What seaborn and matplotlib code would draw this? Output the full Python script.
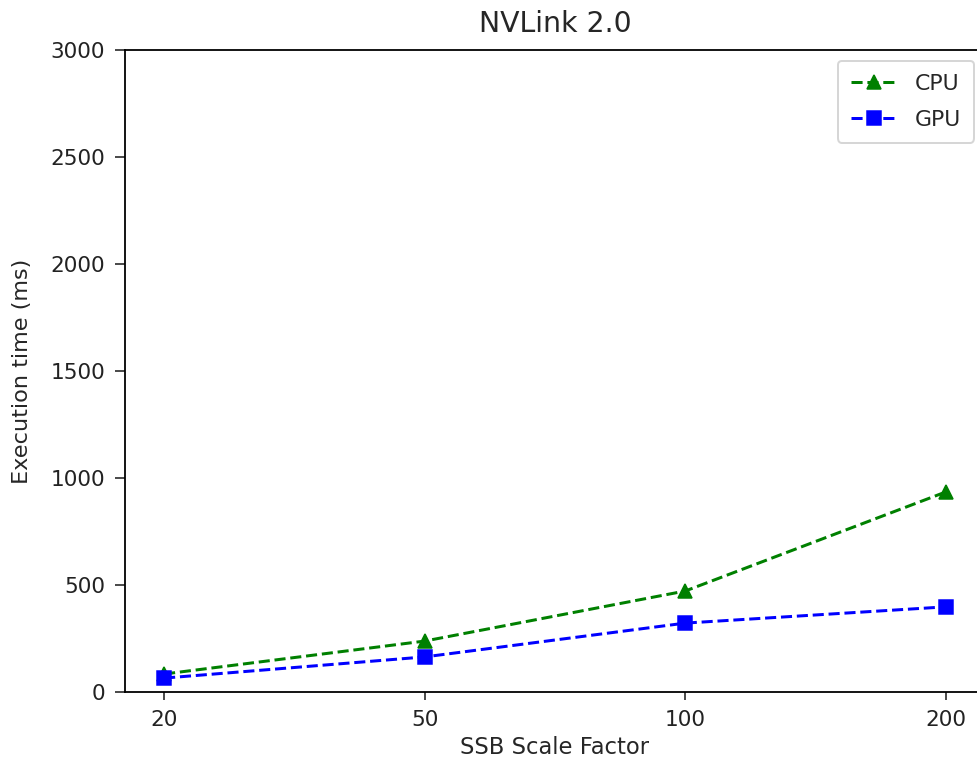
import matplotlib
matplotlib.use("Agg")
import matplotlib.pyplot as plt
import seaborn as sns
import pandas as pd

scale_factors = ["20", "50", "100", "200"]
cpu_ms = [84, 238, 472, 935]
gpu_ms = [65, 164, 322, 398]

sns.set_style("ticks")
plt.rcParams['font.family'] = ['DejaVu Sans']

dpi = 144
fig = plt.figure(figsize=(977 / dpi, 769 / dpi), dpi=dpi)
ax = fig.add_axes([125 / 977, (769 - 692) / 769, (985 - 125) / 977, (692 - 50) / 769])

pos = list(range(len(scale_factors)))
df = pd.DataFrame({
    "x": pos * 2,
    "y": cpu_ms + gpu_ms,
    "series": ["CPU"] * 4 + ["GPU"] * 4,
})

sns.lineplot(data=df[df.series == "CPU"], x="x", y="y", ax=ax, color="green",
             linestyle="--", marker="^", markersize=7, markeredgecolor="green",
             label="CPU", linewidth=1.5)
sns.lineplot(data=df[df.series == "GPU"], x="x", y="y", ax=ax, color="blue",
             linestyle="--", marker="s", markersize=7, markeredgecolor="blue",
             label="GPU", linewidth=1.5)

ax.set_xticks(pos)
ax.set_xticklabels(scale_factors)
ax.set_xlim(-0.15, 3.15)
ax.set_ylim(0, 3000)
ax.set_xlabel("SSB Scale Factor", fontsize=11.3, labelpad=3)
ax.set_ylabel("Execution time (ms)", fontsize=11.2, labelpad=9)
ax.set_title("NVLink 2.0", fontsize=14.2, pad=9)
ax.tick_params(axis="y", labelsize=10.8, colors="#222222", length=5, pad=5)
ax.tick_params(axis="x", labelsize=10.8, colors="#222222", length=4, pad=5)
for s in ax.spines.values():
    s.set_visible(True)
    s.set_color("black")
    s.set_linewidth(0.9)
ax.legend(loc="upper right", fontsize=11, borderpad=0.6, labelspacing=0.7,
          handlelength=2.1)

fig.savefig("out.png", dpi=dpi)
